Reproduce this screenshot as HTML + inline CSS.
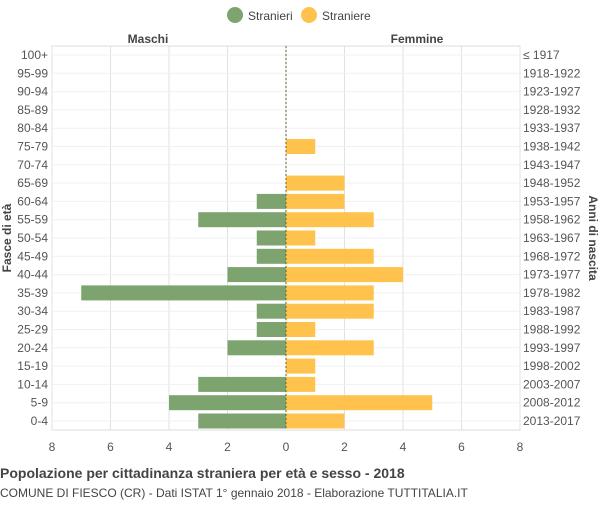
<!DOCTYPE html>
<html><head><meta charset="utf-8"><style>
body{margin:0;background:#fff;font-family:"Liberation Sans",sans-serif}
</style></head><body>
<svg id="chart" width="600" height="500" xmlns="http://www.w3.org/2000/svg" font-family="Liberation Sans, sans-serif">
<g id="grid"></g>
<g id="bars"></g>
<g id="labels"></g>
<g>
<circle cx="235" cy="15" r="8" fill="#7da36f"/>
<text x="248" y="20" font-size="12" fill="#444">Stranieri</text>
<circle cx="309" cy="15" r="8" fill="#ffc34d"/>
<text x="322" y="20" font-size="12" fill="#444">Straniere</text>
</g>
<text x="148" y="43" font-size="12" font-weight="bold" fill="#444" text-anchor="middle">Maschi</text>
<text x="417" y="43" font-size="12" font-weight="bold" fill="#444" text-anchor="middle">Femmine</text>
<text transform="translate(11,238) rotate(-90)" font-size="12" font-weight="bold" fill="#444" text-anchor="middle">Fasce di età</text>
<text transform="translate(589,238) rotate(90)" font-size="12" font-weight="bold" fill="#444" text-anchor="middle">Anni di nascita</text>
<text x="0" y="478" font-size="14" font-weight="bold" fill="#444">Popolazione per cittadinanza straniera per età e sesso - 2018</text>
<text x="0" y="497" font-size="12" fill="#444">COMUNE DI FIESCO (CR) - Dati ISTAT 1° gennaio 2018 - Elaborazione TUTTITALIA.IT</text>
</svg>
<script>
const ageGroups=["100+","95-99","90-94","85-89","80-84","75-79","70-74","65-69","60-64","55-59","50-54","45-49","40-44","35-39","30-34","25-29","20-24","15-19","10-14","5-9","0-4"];
const birthYears=["≤ 1917","1918-1922","1923-1927","1928-1932","1933-1937","1938-1942","1943-1947","1948-1952","1953-1957","1958-1962","1963-1967","1968-1972","1973-1977","1978-1982","1983-1987","1988-1992","1993-1997","1998-2002","2003-2007","2008-2012","2013-2017"];
const males=[0,0,0,0,0,0,0,0,1,3,1,1,2,7,1,1,2,0,3,4,3];
const females=[0,0,0,0,0,1,0,2,2,3,1,3,4,3,3,1,3,1,1,5,2];
const xTicks=[8,6,4,2,0,2,4,6,8];
const NS="http://www.w3.org/2000/svg";
const cx=286,unit=29.25,top0=55,step=18.3,bh=15;
const xs=v=>v*unit;
const ys=i=>top0+i*step;
function mk(tag,attrs,parent){const e=document.createElementNS(NS,tag);for(const k in attrs)e.setAttribute(k,attrs[k]);parent.appendChild(e);return e;}
const grid=document.getElementById('grid'),bars=document.getElementById('bars'),labels=document.getElementById('labels');
mk('rect',{x:52,y:46,width:468,height:384,fill:'none',stroke:'#ddd'},grid);
xTicks.forEach((t,k)=>{const x=cx+(k-4)*2*unit;
 const l=mk('line',{x1:x,x2:x,y1:46,y2:430,stroke:'#e2e2e2'},grid);
 
 
 const tx=mk('text',{x:x,y:451,'font-size':12,fill:'#555','text-anchor':'middle'},labels);
 tx.textContent=t;
 
 
});
ageGroups.forEach((g,i)=>{const y=ys(i);
 mk('line',{x1:52,x2:520,y1:y,y2:y,stroke:'#f0f0f0'},grid);
 if(males[i]>0){const r=mk('rect',{x:cx-xs(males[i]),y:y-bh/2,width:xs(males[i]),height:bh,fill:'#7da36f'},bars);
  
  }
 if(females[i]>0){const r=mk('rect',{x:cx,y:y-bh/2,width:xs(females[i]),height:bh,fill:'#ffc34d'},bars);
  
  }
 const a=mk('text',{x:48,y:y+4,'font-size':12,fill:'#555','text-anchor':'end'},labels);
 a.textContent=g;
 
 
 const b=mk('text',{x:523,y:y+4,'font-size':12,fill:'#555'},labels);
 b.textContent=birthYears[i];
 
 
});
const c=mk('line',{x1:cx,x2:cx,y1:46,y2:430,stroke:'#666633','stroke-dasharray':'2,2'},bars);


</script>
</body></html>
